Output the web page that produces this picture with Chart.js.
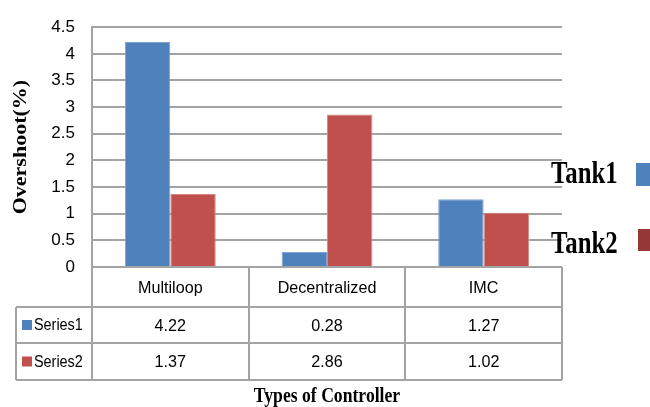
<!DOCTYPE html>
<html>
<head>
<meta charset="utf-8">
<script src="https://cdn.jsdelivr.net/npm/chart.js@4/dist/chart.umd.min.js"></script>
<style>
  body { margin: 0; background: #fff; }
  #wrap { width: 650px; height: 407px; }
</style>
</head>
<body>
<div id="wrap"><canvas id="overshootChart" width="650" height="407"></canvas></div>
<script>
// chart data
const controllers = ['Multiloop', 'Decentralized', 'IMC'];
const series1 = [4.22, 0.28, 1.27];
const series2 = [1.37, 2.86, 1.02];
const seriesNames = ['Series1', 'Series2'];
const legendNames = ['Tank1', 'Tank2'];
const yTicks = [0, 0.5, 1, 1.5, 2, 2.5, 3, 3.5, 4, 4.5];

const blue = '#4F81BD';
const red = '#C0504D';
const darkRed = '#953735';
const lineGray = '#A3A3A3';

// draw text squeezed horizontally (the original picture is narrowed)
function squeezedText(ctx, text, x, y, sx) {
    ctx.save();
    ctx.translate(x, y);
    ctx.scale(sx, 1);
    ctx.fillText(text, 0, 0);
    ctx.restore();
}

// data table, axis titles and the Tank legend
const extrasPlugin = {
    id: 'extras',
    afterDraw(chart) {
        const ctx = chart.ctx;
        const area = chart.chartArea;
        const xScale = chart.scales.x;
        const tableLeft = 16;
        const rowLines = [area.bottom, 307, 343, 380];
        const step = (xScale.getPixelForValue(1) - xScale.getPixelForValue(0));

        ctx.save();
        ctx.strokeStyle = lineGray;
        ctx.lineWidth = 2;
        ctx.beginPath();
        // horizontal lines
        ctx.moveTo(area.left, rowLines[0]); ctx.lineTo(area.right, rowLines[0]);
        for (let i = 1; i < rowLines.length; i++) {
            ctx.moveTo(tableLeft, rowLines[i]); ctx.lineTo(area.right, rowLines[i]);
        }
        // vertical lines
        ctx.moveTo(tableLeft, rowLines[1]); ctx.lineTo(tableLeft, rowLines[3]);
        for (let i = 0; i <= controllers.length; i++) {
            const x = Math.round(xScale.getPixelForValue(0) - step / 2 + i * step);
            ctx.moveTo(x, rowLines[0]); ctx.lineTo(x, rowLines[3]);
        }
        ctx.stroke();

        // table text
        ctx.fillStyle = '#000';
        ctx.textAlign = 'center';
        ctx.textBaseline = 'middle';
        ctx.font = '17px "Liberation Sans", Arial, sans-serif';
        const rows = [series1, series2];
        controllers.forEach((c, i) => {
            const cx = xScale.getPixelForValue(i);
            squeezedText(ctx, c, cx, (rowLines[0] + rowLines[1]) / 2 + 1, 0.95);
            rows.forEach((vals, r) => {
                squeezedText(ctx, vals[i].toFixed(2), cx, (rowLines[r + 1] + rowLines[r + 2]) / 2 + 1, 0.95);
            });
        });
        ctx.textAlign = 'left';
        ctx.font = '16px "Liberation Sans", Arial, sans-serif';
        [blue, red].forEach((col, r) => {
            const cy = (rowLines[r + 1] + rowLines[r + 2]) / 2;
            ctx.fillStyle = col;
            ctx.fillRect(22, cy - 5, 10, 10);
            ctx.fillStyle = '#000';
            squeezedText(ctx, seriesNames[r], 34, cy + 1, 0.9);
        });

        // x axis title
        ctx.textAlign = 'center';
        ctx.textBaseline = 'alphabetic';
        ctx.font = 'bold 21px "Liberation Serif", "Times New Roman", serif';
        squeezedText(ctx, 'Types of Controller', (area.left + area.right) / 2, 402, 0.84);

        // y axis title
        ctx.save();
        ctx.translate(21, (area.top + area.bottom) / 2);
        ctx.rotate(-Math.PI / 2);
        ctx.scale(1, 0.85);
        ctx.textBaseline = 'middle';
        ctx.font = 'bold 22px "Liberation Serif", "Times New Roman", serif';
        ctx.fillText('Overshoot(%)', 0, 0);
        ctx.restore();

        // Tank legend on the right
        ctx.textAlign = 'left';
        ctx.textBaseline = 'alphabetic';
        ctx.font = 'bold 31px "Liberation Serif", "Times New Roman", serif';
        squeezedText(ctx, legendNames[0], 551, 183, 0.8);
        squeezedText(ctx, legendNames[1], 551, 253, 0.8);
        ctx.fillStyle = blue;
        ctx.fillRect(636, 163, 14, 23);
        ctx.fillStyle = darkRed;
        ctx.fillRect(638, 229, 12, 22);
        ctx.restore();
    }
};

const ctx = document.getElementById('overshootChart').getContext('2d');
const chart = new Chart(ctx, {
    type: 'bar',
    data: {
        labels: controllers,
        datasets: [{
            label: seriesNames[0],
            data: series1,
            backgroundColor: blue,
            borderColor: '#7EA3D3',
            borderWidth: 1
        }, {
            label: seriesNames[1],
            data: series2,
            backgroundColor: red,
            borderColor: '#D98785',
            borderWidth: 1
        }]
    },
    options: {
        responsive: false,
        devicePixelRatio: 1,
        animation: false,
        layout: {
            padding: { top: 20, right: 88, bottom: 140, left: 0 }
        },
        datasets: {
            bar: {
                categoryPercentage: 0.58,
                barPercentage: 1.0
            }
        },
        scales: {
            x: {
                display: false
            },
            y: {
                min: 0,
                max: 4.5,
                afterBuildTicks: function (scale) {
                    scale.ticks = yTicks.map(v => ({ value: v }));
                },
                afterFit: function (scale) {
                    scale.width = 92;
                },
                ticks: {
                    color: '#000',
                    padding: 17,
                    font: { family: '"Liberation Sans", Arial, sans-serif', size: 17 },
                    callback: function (value) { return String(value); }
                },
                grid: {
                    color: lineGray,
                    lineWidth: 2,
                    drawTicks: false
                },
                border: {
                    display: true,
                    color: lineGray,
                    width: 2
                }
            }
        },
        plugins: {
            legend: { display: false },
            tooltip: { enabled: false }
        }
    },
    plugins: [extrasPlugin]
});
</script>
</body>
</html>
